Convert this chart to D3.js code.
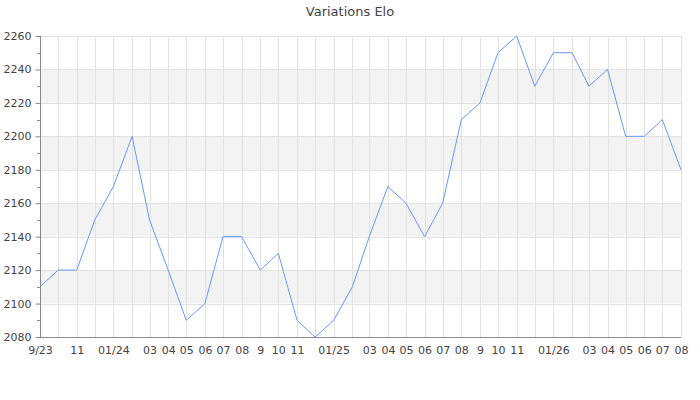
<!DOCTYPE html>
<html>
<head>
<meta charset="utf-8">
<script src="https://cdn.jsdelivr.net/npm/d3@7"></script>
<style>
  html, body { margin: 0; padding: 0; background: #fff; }
  svg { display: block; }
</style>
</head>
<body>
<svg id="chart" width="700" height="400"></svg>
<script>
const months = ["2023-09","2023-10","2023-11","2023-12","2024-01","2024-02","2024-03","2024-04","2024-05","2024-06","2024-07","2024-08","2024-09","2024-10","2024-11","2024-12","2025-01","2025-02","2025-03","2025-04","2025-05","2025-06","2025-07","2025-08","2025-09","2025-10","2025-11","2025-12","2026-01","2026-02","2026-03","2026-04","2026-05","2026-06","2026-07","2026-08"];
const elo = [2110,2120,2120,2150,2170,2200,2150,2120,2090,2100,2140,2140,2120,2130,2090,2080,2090,2110,2140,2170,2160,2140,2160,2210,2220,2250,2260,2230,2250,2250,2230,2240,2200,2200,2210,2180];
const tickLabels = ["9/23","","11","","01/24","","03","04","05","06","07","08","9","10","11","","01/25","","03","04","05","06","07","08","9","10","11","","01/26","","03","04","05","06","07","08"];
const yTicks = [2080,2100,2120,2140,2160,2180,2200,2220,2240,2260];
const title = "Variations Elo";

(function () {
const parse = d3.timeParse("%Y-%m");
const dates = months.map(parse);
const data = dates.map((d, i) => ({date: d, value: elo[i]}));

const svg = d3.select("#chart");
const pLeft = 40, pRight = 681, pTop = 36, pBottom = 337;

const x = d3.scaleTime().domain(d3.extent(dates)).range([pLeft, pRight]);
const y = d3.scaleLinear().domain([2080, 2260]).range([pBottom, pTop]);

// alternating bands
const bands = [];
for (let i = 0; i < yTicks.length - 1; i++) {
  if (i % 2 === 1) bands.push([yTicks[i], yTicks[i + 1]]);
}
svg.append("g").selectAll("rect").data(bands).join("rect")
  .attr("x", pLeft).attr("width", pRight - pLeft)
  .attr("y", d => y(d[1])).attr("height", d => y(d[0]) - y(d[1]))
  .attr("fill", "#f3f3f3");

// horizontal grid
svg.append("g").selectAll("line").data(yTicks).join("line")
  .attr("x1", pLeft).attr("x2", pRight)
  .attr("y1", d => Math.round(y(d)) + 0.5).attr("y2", d => Math.round(y(d)) + 0.5)
  .attr("stroke", "#e2e2e2").attr("stroke-width", 1);

// vertical grid
svg.append("g").selectAll("line").data(dates.slice(1)).join("line")
  .attr("x1", d => Math.round(x(d)) + 0.5).attr("x2", d => Math.round(x(d)) + 0.5)
  .attr("y1", pTop).attr("y2", pBottom)
  .attr("stroke", "#e2e2e2").attr("stroke-width", 1);

// line
const line = d3.line().x(d => x(d.date)).y(d => y(d.value));
svg.append("path").datum(data)
  .attr("d", line)
  .attr("fill", "none")
  .attr("stroke", "#6d97ee")
  .attr("stroke-width", 1);

// y axis
const yAxis = d3.axisLeft(y).tickValues(yTicks).tickSize(5).tickPadding(4).tickFormat(d3.format("d"));
const gy = svg.append("g").attr("transform", `translate(${pLeft + 0.5},0)`).call(yAxis);
gy.select(".domain").attr("stroke", "#888").attr("d", `M0,${pTop}V${pBottom}`);
gy.selectAll(".tick line").attr("stroke", "#888");
gy.selectAll(".tick text").attr("fill", "#444").style("font-family", "DejaVu Sans").style("font-size", "11px");
// minor ticks
const minor = d3.range(2090, 2260, 20);
svg.append("g").selectAll("line").data(minor).join("line")
  .attr("x1", pLeft - 3).attr("x2", pLeft)
  .attr("y1", d => Math.round(y(d)) + 0.5).attr("y2", d => Math.round(y(d)) + 0.5)
  .attr("stroke", "#888");

// x axis
const xAxis = d3.axisBottom(x).tickValues(dates).tickSize(0).tickPadding(9)
  .tickFormat((d, i) => tickLabels[i]);
const gx = svg.append("g").attr("transform", `translate(0,${pBottom + 0.5})`).call(xAxis);
gx.select(".domain").attr("stroke", "#888").attr("d", `M${pLeft},0H${pRight}`);
gx.selectAll(".tick text").attr("fill", "#444").style("font-family", "DejaVu Sans").style("font-size", "11px");

// title
svg.append("text")
  .attr("x", 350).attr("y", 16)
  .attr("text-anchor", "middle")
  .style("font-family", "DejaVu Sans")
  .style("font-size", "13px")
  .attr("fill", "#444")
  .text(title);
})();
</script>
</body>
</html>
